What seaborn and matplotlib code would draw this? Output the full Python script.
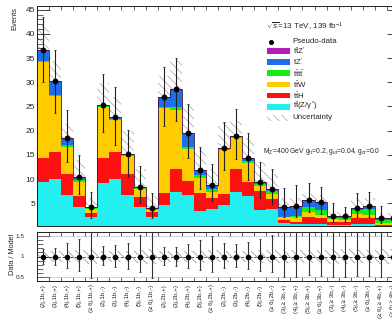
import numpy as np
import pandas as pd
import matplotlib
matplotlib.use("Agg")
import matplotlib.pyplot as plt
import seaborn as sns
from matplotlib.patches import Rectangle
from matplotlib.lines import Line2D

# ---- signal regions (jets, b-jets, lepton charge) ----
regions = [
    "(2j,1b,+)", "(3j,1b,+)", "(4j,1b,+)", "(5j,1b,+)", "(≥ 6j,1b,+)",
    "(2j,1b,-)", "(3j,1b,-)", "(4j,1b,-)", "(5j,1b,-)", "(≥ 6j,1b,-)",
    "(2j,2b,+)", "(3j,2b,+)", "(4j,2b,+)", "(5j,2b,+)", "(≥ 6j,2b,+)",
    "(2j,2b,-)", "(3j,2b,-)", "(4j,2b,-)", "(5j,2b,-)", "(≥ 6j,2b,-)",
    "(3j,≥ 3b,+)", "(4j,≥ 3b,+)", "(5j,≥ 3b,+)", "(≥ 6j,3b,+)",
    "(3j,≥ 3b,-)", "(4j,≥ 3b,-)", "(5j,≥ 3b,-)", "(≥ 6j,3b,-)",
    "(≥ 6j,≥ 4b,+)", "(≥ 6j,≥ 4b,-)",
]

# ---- expected events per process ----
ttZ = [9.3, 10.0, 6.7, 4.2, 2.1, 9.25, 10.0, 6.7, 4.2, 2.1,
       4.65, 7.4, 6.7, 3.4, 3.9, 4.65, 7.4, 6.6, 3.6, 3.8,
       0.9, 0.7, 0.8, 0.8, 0.5, 0.55, 0.7, 0.7, 0.15, 0.15]
ttH = [5.0, 5.7, 4.35, 2.3, 0.95, 5.05, 5.7, 4.35, 2.05, 1.0,
       2.4, 4.6, 2.9, 3.65, 2.1, 2.2, 4.6, 2.85, 3.95, 2.1,
       0.6, 0.4, 1.4, 1.2, 0.7, 0.5, 1.3, 1.2, 0.4, 0.4]
ttW = [19.9, 11.5, 5.6, 3.0, 0.7, 10.6, 6.6, 3.75, 1.65, 0.55,
       17.6, 12.3, 6.55, 3.1, 1.4, 9.2, 6.5, 3.85, 1.0, 1.0,
       0.7, 1.0, 1.0, 0.6, 0.6, 0.6, 0.8, 0.7, 0.3, 0.3]
tttt = [0.2, 0.2, 0.3, 0.3, 0.25, 0.1, 0.1, 0.2, 0.25, 0.2,
        0.25, 0.5, 0.4, 0.7, 0.6, 0.15, 0.2, 0.5, 0.4, 0.6,
        0.05, 0.3, 1.05, 1.0, 0.2, 0.35, 0.9, 1.2, 0.7, 0.7]
tZp = [2.1, 2.8, 1.4, 0.6, 0.2, 0.3, 0.4, 0.15, 0.1, 0.05,
       2.0, 3.65, 2.9, 0.95, 0.7, 0.1, 0.15, 0.4, 0.4, 0.35,
       1.8, 1.9, 1.2, 1.3, 0.25, 0.2, 0.3, 0.4, 0.3, 0.25]
ttZp = [0.1, 0.1, 0.1, 0.1, 0.1, 0.05, 0.05, 0.05, 0.05, 0.05,
        0.1, 0.1, 0.15, 0.1, 0.1, 0.05, 0.05, 0.1, 0.1, 0.1,
        0.1, 0.15, 0.25, 0.3, 0.1, 0.1, 0.1, 0.15, 0.15, 0.1]

# upper edge of the hatched model uncertainty in the event panel
band_hi = [41.8, 34.3, 21.3, 14.0, 6.0, 29.8, 27.0, 20.0, 12.0, 6.5,
           31.2, 34.6, 25.0, 16.0, 12.0, 21.5, 22.0, 18.5, 13.5, 11.0,
           6.0, 6.0, 7.0, 6.8, 3.2, 3.2, 6.0, 6.0, 3.0, 3.0]
# relative uncertainty band in the ratio panel
ratio_unc = [0.13, 0.13, 0.14, 0.15, 0.18, 0.13, 0.13, 0.14, 0.15, 0.18,
             0.13, 0.13, 0.14, 0.15, 0.16, 0.13, 0.13, 0.14, 0.15, 0.16,
             0.17, 0.17, 0.16, 0.16, 0.18, 0.18, 0.17, 0.17, 0.18, 0.18]

# pseudo-data statistical interval, as fraction of the model
ratio_hi = [1.19, 1.21, 1.32, 1.42, 1.72, 1.25, 1.27, 1.33, 1.52, 1.78,
            1.23, 1.23, 1.30, 1.40, 1.50, 1.33, 1.30, 1.36, 1.44, 1.52,
            1.95, 1.95, 1.62, 1.62, 2.13, 1.87, 1.72, 1.70, 2.20, 2.20]
ratio_lo = [0.82, 0.78, 0.73, 0.65, 0.48, 0.78, 0.75, 0.69, 0.61, 0.48,
            0.78, 0.77, 0.73, 0.67, 0.63, 0.73, 0.75, 0.69, 0.65, 0.61,
            0.50, 0.50, 0.55, 0.53, 0.50, 0.50, 0.52, 0.52, 0.50, 0.50]

processes = ["ttZ'", "tZ'", "tttt", "ttW", "ttH", "ttZ"]   # top of stack first
yields = {"ttZ'": ttZp, "tZ'": tZp, "tttt": tttt, "ttW": ttW, "ttH": ttH, "ttZ": ttZ}
colors = {"ttZ'": "#B41CB8", "tZ'": "#1C6EEA", "tttt": "#14EE14",
          "ttW": "#FFCC00", "ttH": "#FF1010", "ttZ": "#22F0F0"}
labels = {"ttZ'": r"$\mathrm{t\bar{t}Z'}$", "tZ'": r"$\mathrm{tZ'}$",
          "tttt": r"$\mathrm{t\bar{t}t\bar{t}}$", "ttW": r"$\mathrm{t\bar{t}W}$",
          "ttH": r"$\mathrm{t\bar{t}H}$", "ttZ": r"$\mathrm{t\bar{t}(Z/\gamma^{*})}$"}

nbins = len(regions)
edges = np.arange(nbins + 1)
centers = edges[:-1] + 0.5

rows = []
for p in processes:
    for i, v in enumerate(yields[p]):
        rows.append({"x": centers[i], "process": p, "events": v})
df = pd.DataFrame(rows)

total = np.sum([np.array(yields[p]) for p in processes], axis=0)
data = total.copy()
ratio = data / total
r_hi = np.array(ratio_hi)
r_lo = np.array(ratio_lo)
band_up = np.array(band_hi)
runc = np.array(ratio_unc)

# ---- style ----
sns.set_style("ticks")
plt.rcParams["font.family"] = ["Liberation Sans", "DejaVu Sans"]
plt.rcParams["mathtext.fontset"] = "custom"
plt.rcParams["mathtext.rm"] = "Liberation Sans"
plt.rcParams["mathtext.it"] = "Liberation Sans:italic"
plt.rcParams["mathtext.bf"] = "Liberation Sans:bold"
plt.rcParams["hatch.linewidth"] = 0.5
plt.rcParams["axes.linewidth"] = 0.7

W, H = 392, 329
fig = plt.figure(figsize=(W / 100, H / 100), dpi=100)


def rect(x0, y0, x1, y1):
    return [x0 / W, 1 - y1 / H, (x1 - x0) / W, (y1 - y0) / H]


ax = fig.add_axes(rect(37, 6, 399, 226))
rax = fig.add_axes(rect(37, 232, 399, 281))

HATCH = "\\\\\\\\"

# ---- main panel ----
half = band_up - total
ax.bar(centers, 2 * half, bottom=total - half, width=1.0, facecolor="none",
       edgecolor="#a4a4a4", hatch=HATCH, linewidth=0, zorder=0.5)
sns.histplot(data=df, x="x", weights="events", hue="process", hue_order=processes,
             multiple="stack", bins=edges.tolist(), palette=colors, alpha=1, linewidth=0,
             antialiased=False, legend=False, ax=ax, zorder=1)
ax.stairs(total, edges, color="#3a1040", linewidth=0.6, zorder=3)
ax.errorbar(centers, data, yerr=[data - data * r_lo, data * r_hi - data],
            fmt="o", color="black", ecolor="#222222", ms=3.2, elinewidth=0.8,
            capsize=0.8, capthick=0.6, zorder=5)

ax.set_xlim(0, nbins)
ax.set_ylim(0.31, 45.76)
ax.set_xlabel("")
ax.set_ylabel("")
ax.set_xticks(edges)
ax.set_xticklabels([])
ax.set_yticks(np.arange(5, 46, 5))
ax.set_yticks(np.arange(1, 46, 1), minor=True)
ax.tick_params(axis="y", which="major", direction="in", length=9, width=0.6,
               left=True, right=True, labelsize=6, pad=1.5)
ax.tick_params(axis="y", which="minor", direction="in", length=4.6, width=0.5,
               left=True, right=True)
ax.tick_params(axis="x", which="major", direction="in", length=2.8, width=0.5,
               top=True, bottom=True)
for s in ax.spines.values():
    s.set_visible(True)
    s.set_color("#222222")
fig.text(14.5 / W, 1 - 7 / H, "Events", rotation=90, ha="center", va="top", fontsize=5.4)

# ---- text and legend ----
fig.text(266 / W, 1 - 27 / H, r"$\sqrt{s}$=13 TeV, 139 fb$^{-1}$", ha="left", va="center",
         fontsize=5.8)
fig.add_artist(Line2D([271 / W], [1 - 41.5 / H], marker="o", color="black", ms=2.6,
                      linestyle="none"))
fig.text(292.7 / W, 1 - 41.5 / H, "Pseudo-data", ha="left", va="center", fontsize=5.7)
row_y = [51.2, 62.2, 73.3, 84.5, 95.5, 106.7]
for p, yy in zip(processes, row_y):
    fig.add_artist(Rectangle((266.7 / W, 1 - (yy + 2.9) / H), 23.3 / W, 5.8 / H,
                             facecolor=colors[p], edgecolor="none",
                             transform=fig.transFigure))
    fig.text(292.7 / W, 1 - yy / H, labels[p], ha="left", va="center", fontsize=5.7)
fig.add_artist(Rectangle((266.7 / W, 1 - (117.8 + 2.9) / H), 23.3 / W, 5.8 / H,
                         facecolor="none", edgecolor="#a4a4a4", hatch=HATCH,
                         linewidth=0, transform=fig.transFigure))
fig.text(292.7 / W, 1 - 117.8 / H, "Uncertainty", ha="left", va="center", fontsize=5.7)
fig.text(262.7 / W, 1 - 151.7 / H,
         r"M$_{\mathrm{Z'}}$=400 GeV g$_{\mathrm{tt}}$=0.2, g$_{\mathrm{ut}}$=0.04, "
         r"g$_{\mathrm{ct}}$=0.0", ha="left", va="center", fontsize=4.9)

# ---- ratio panel ----
rax.bar(centers, 2 * runc, bottom=1 - runc, width=1.0, facecolor="none",
        edgecolor="#8c8c8c", hatch=HATCH, linewidth=0, zorder=0.5)
rax.axhline(1.0, color="#333333", linewidth=0.6, linestyle=(0, (3, 2)), zorder=1)
for lvl in (0.5, 1.5):
    rax.axhline(lvl, color="#999999", linewidth=0.6, linestyle=(0, (1, 1)), zorder=1)
rax.errorbar(centers, ratio, yerr=[ratio - r_lo, r_hi - ratio], fmt="o", color="black",
             ecolor="#333333", ms=3.0, elinewidth=0.8, capsize=0.8, capthick=0.6, zorder=5)
rax.set_xlim(0, nbins)
rax.set_ylim(0.4, 1.6)
rax.set_yticks([0.5, 1.0, 1.5])
rax.set_yticklabels(["0.5", "1", "1.5"])
rax.set_yticks(np.arange(0.4, 1.61, 0.1), minor=True)
rax.tick_params(axis="y", which="major", direction="in", length=9, width=0.6,
                left=True, right=True, labelsize=4.6, pad=9.0)
rax.tick_params(axis="y", which="minor", direction="in", length=4.3, width=0.5,
                left=True, right=True)
rax.set_xticks(edges)
rax.set_xticklabels([])
rax.set_xticks(centers, minor=True)
rax.set_xticklabels(regions, minor=True, rotation=90, fontsize=4.4, va="top", ha="center")
rax.tick_params(axis="x", which="major", direction="in", length=2.8, width=0.5,
                top=True, bottom=True)
rax.tick_params(axis="x", which="minor", length=0, pad=2.5)
for s in rax.spines.values():
    s.set_visible(True)
    s.set_color("#222222")
fig.text(12.5 / W, 1 - 254 / H, "Data / Model", rotation=90, ha="center", va="center",
         fontsize=5.3)

fig.savefig("out.png", dpi=100)
